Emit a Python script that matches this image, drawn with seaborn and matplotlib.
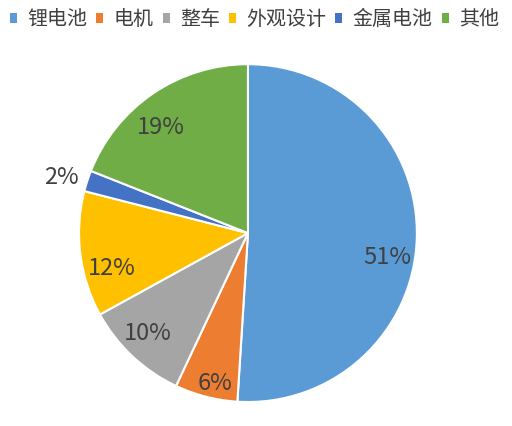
import numpy as np
import seaborn as sns
import matplotlib.pyplot as plt
from matplotlib.patches import Patch

labels = ['锂电池', '电机', '整车', '外观设计', '金属电池', '其他']
shares = [51, 6, 10, 12, 2, 19]
colors = ['#5B9BD5', '#ED7D31', '#A5A5A5', '#FFC000', '#4472C4', '#70AD47']

# Excel "best fit" label placement: radial distance and a clockwise nudge (deg)
label_dist = [0.84, 0.91, 0.84, 0.835, 1.15, 0.81]
label_nudge = [8, -2, 2, -7.5, -1.5, -5.5]

sns.set_theme(style='white')
plt.rcParams['font.family'] = ['Noto Sans CJK SC', 'DejaVu Sans']
text_color = '#404040'

fig = plt.figure(figsize=(5.12, 4.26), dpi=100)
ax = fig.add_axes([0.1543, 0.0563, 0.660, 0.793])

palette = sns.color_palette(colors)
wedges, _ = ax.pie(shares, colors=palette, startangle=90, counterclock=False,
                   radius=1, wedgeprops=dict(edgecolor='white', linewidth=1.5))

for w, v, d, n in zip(wedges, shares, label_dist, label_nudge):
    ang = np.deg2rad((w.theta1 + w.theta2) / 2 - n)
    ax.text(d * np.cos(ang), d * np.sin(ang), f'{v}%', ha='center', va='center',
            fontsize=17, color=text_color, clip_on=False)

ax.set_xlim(-1, 1)
ax.set_ylim(-1, 1)
ax.set_aspect('equal')
ax.axis('off')

handles = [Patch(facecolor=c, edgecolor='none') for c in palette]
fig.legend(handles, labels, loc='center', bbox_to_anchor=(0.497, 0.954), ncol=6,
           frameon=False, fontsize=14.4, labelcolor=text_color,
           handlelength=0.35, handleheight=0.35, handletextpad=0.52,
           columnspacing=0.45, borderpad=0, borderaxespad=0)

fig.savefig('out.png', dpi=100)
